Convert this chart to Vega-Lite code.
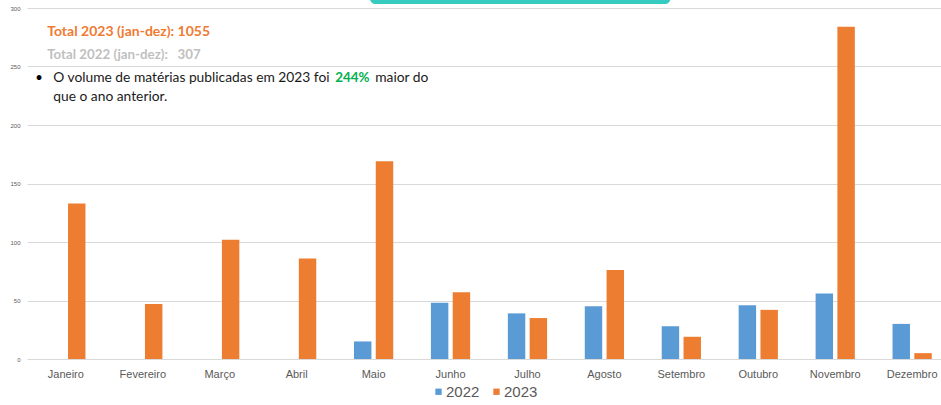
{
  "$schema": "https://vega.github.io/schema/vega-lite/v6.json",
  "width": 924,
  "height": 351,
  "autosize": {"type": "none"},
  "padding": {"left": 27, "top": 8, "right": 0, "bottom": 46},
  "background": "white",
  "config": {"view": {"stroke": null}, "font": "Liberation Sans"},
  "datasets": {
    "bars": [
      {"mes": "Janeiro", "ano": "2022", "valor": 0},
      {"mes": "Janeiro", "ano": "2023", "valor": 133},
      {"mes": "Fevereiro", "ano": "2022", "valor": 0},
      {"mes": "Fevereiro", "ano": "2023", "valor": 47},
      {"mes": "Março", "ano": "2022", "valor": 0},
      {"mes": "Março", "ano": "2023", "valor": 102},
      {"mes": "Abril", "ano": "2022", "valor": 0},
      {"mes": "Abril", "ano": "2023", "valor": 86},
      {"mes": "Maio", "ano": "2022", "valor": 15},
      {"mes": "Maio", "ano": "2023", "valor": 169},
      {"mes": "Junho", "ano": "2022", "valor": 48},
      {"mes": "Junho", "ano": "2023", "valor": 57},
      {"mes": "Julho", "ano": "2022", "valor": 39},
      {"mes": "Julho", "ano": "2023", "valor": 35},
      {"mes": "Agosto", "ano": "2022", "valor": 45},
      {"mes": "Agosto", "ano": "2023", "valor": 76},
      {"mes": "Setembro", "ano": "2022", "valor": 28},
      {"mes": "Setembro", "ano": "2023", "valor": 19},
      {"mes": "Outubro", "ano": "2022", "valor": 46},
      {"mes": "Outubro", "ano": "2023", "valor": 42},
      {"mes": "Novembro", "ano": "2022", "valor": 56},
      {"mes": "Novembro", "ano": "2023", "valor": 284},
      {"mes": "Dezembro", "ano": "2022", "valor": 30},
      {"mes": "Dezembro", "ano": "2023", "valor": 5}
    ]
  },
  "layer": [
    {
      "data": {"name": "bars"},
      "mark": {"type": "bar"},
      "encoding": {
        "x": {
          "field": "mes", "type": "nominal", "sort": null,
          "scale": {"paddingInner": 0.49, "paddingOuter": 0.25},
          "axis": {"title": null, "labelAngle": 0, "ticks": false, "domain": false, "grid": false,
                   "labelFont": "Liberation Sans Narrow, Arial Narrow, Liberation Sans", "labelFontSize": 11, "labelColor": "#595959", "labelPadding": 9}
        },
        "xOffset": {"field": "ano", "type": "nominal", "scale": {"paddingInner": 0.2, "paddingOuter": 0}},
        "y": {
          "field": "valor", "type": "quantitative",
          "scale": {"domain": [0, 300], "nice": false},
          "axis": {"title": null, "values": [0, 50, 100, 150, 200, 250, 300], "ticks": false, "domain": false,
                   "gridColor": "#D9D9D9", "gridWidth": 1, "labelFontSize": 6, "labelColor": "#595959", "labelPadding": 7}
        },
        "color": {
          "field": "ano", "type": "nominal",
          "scale": {"domain": ["2022", "2023"], "range": ["#5B9BD5", "#ED7D31"]},
          "legend": {"title": null, "orient": "none", "legendX": 404, "legendY": 376, "direction": "horizontal", "symbolType": "square", "symbolSize": 40,
                     "labelFont": "Liberation Sans Narrow, Arial Narrow, Liberation Sans", "labelFontSize": 15, "labelColor": "#595959", "columnPadding": 9, "labelOffset": 0}
        }
      }
    },
    {
      "data": {"values": [{"t": "bar"}]},
      "mark": {"type": "rect", "color": "#35CBC1", "cornerRadiusBottomLeft": 6, "cornerRadiusBottomRight": 6, "clip": false},
      "encoding": {
        "x": {"datum": "Maio", "bandPosition": 0.41},
        "x2": {"datum": "Setembro", "bandPosition": 0.22},
        "y": {"datum": 303.4},
        "y2": {"datum": 312}
      }
    },
    {
      "data": {"values": [{"t": "Total 2023 (jan-dez): 1055"}]},
      "mark": {"type": "text", "align": "left", "baseline": "middle", "font": "Lato", "fontWeight": "bold", "fontSize": 14, "color": "#F07A32", "dx": 1},
      "encoding": {"text": {"field": "t"}, "x": {"datum": "Janeiro", "bandPosition": 0}, "y": {"datum": 279.5}}
    },
    {
      "data": {"values": [{"t": "Total 2022 (jan-dez):\u00a0\u00a0 307"}]},
      "mark": {"type": "text", "align": "left", "baseline": "middle", "font": "Lato", "fontWeight": "bold", "fontSize": 13.3, "color": "#BFBFBF", "dx": 1},
      "encoding": {"text": {"field": "t"}, "x": {"datum": "Janeiro", "bandPosition": 0}, "y": {"datum": 259.5}}
    },
    {
      "data": {"values": [{"t": "•"}]},
      "mark": {"type": "text", "align": "left", "baseline": "middle", "font": "Lato", "fontSize": 13, "color": "#000000", "dx": -11},
      "encoding": {"text": {"field": "t"}, "x": {"datum": "Janeiro", "bandPosition": 0}, "y": {"datum": 240.5}}
    },
    {
      "data": {"values": [{"t": "O volume de matérias publicadas em 2023 foi"}]},
      "mark": {"type": "text", "align": "left", "baseline": "middle", "font": "Lato", "fontSize": 13.8, "color": "#1a1a1a", "dx": 7},
      "encoding": {"text": {"field": "t"}, "x": {"datum": "Janeiro", "bandPosition": 0}, "y": {"datum": 240.5}}
    },
    {
      "data": {"values": [{"t": "244%"}]},
      "mark": {"type": "text", "align": "left", "baseline": "middle", "font": "Lato", "fontWeight": "bold", "fontSize": 13.4, "color": "#00B050", "dx": 289},
      "encoding": {"text": {"field": "t"}, "x": {"datum": "Janeiro", "bandPosition": 0}, "y": {"datum": 240.5}}
    },
    {
      "data": {"values": [{"t": "maior do"}]},
      "mark": {"type": "text", "align": "left", "baseline": "middle", "font": "Lato", "fontSize": 13.8, "color": "#1a1a1a", "dx": 329},
      "encoding": {"text": {"field": "t"}, "x": {"datum": "Janeiro", "bandPosition": 0}, "y": {"datum": 240.5}}
    },
    {
      "data": {"values": [{"t": "que o ano anterior."}]},
      "mark": {"type": "text", "align": "left", "baseline": "middle", "font": "Lato", "fontSize": 13.8, "color": "#1a1a1a", "dx": 7},
      "encoding": {"text": {"field": "t"}, "x": {"datum": "Janeiro", "bandPosition": 0}, "y": {"datum": 224}}
    }
  ]
}
